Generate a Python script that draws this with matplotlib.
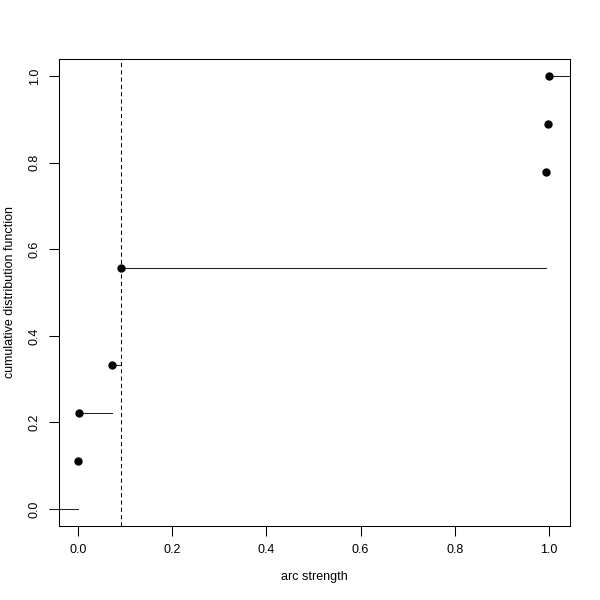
import matplotlib
matplotlib.use("Agg")
import matplotlib.pyplot as plt
import numpy as np

strengths = [0.001, 0.003, 0.072, 0.0907, 0.0907, 0.994, 0.994, 0.998, 1.0]
threshold = 0.0907
xticks = [0.0, 0.2, 0.4, 0.6, 0.8, 1.0]
yticks = [0.0, 0.2, 0.4, 0.6, 0.8, 1.0]

plt.rcParams['font.family'] = ['Liberation Sans', 'DejaVu Sans']
fig = plt.figure(figsize=(6, 6), dpi=100)
ax = fig.add_axes([0.0983, 0.1233, 0.8517, 0.7784])

xs = np.sort(np.array(strengths))
n = len(xs)
ux, counts = np.unique(xs, return_counts=True)
cdf = np.cumsum(counts) / n

xlo, xhi = -0.0403, 1.0446
ax.set_xlim(xlo, xhi)
ax.set_ylim(-0.039, 1.039)

lw = 0.75
lc = '#222222'
# left segment
ax.plot([-0.057, ux[0]], [0, 0], color=lc, lw=lw, clip_on=False)
for i in range(len(ux)):
    xr = ux[i + 1] if i + 1 < len(ux) else xhi
    ax.plot([ux[i], xr], [cdf[i], cdf[i]], color=lc, lw=lw, clip_on=False)
ax.plot(ux, cdf, 'o', color='black', markersize=5, clip_on=False)

ax.axvline(threshold, color='black', lw=0.75, linestyle=(0, (4, 3)))

ax.set_xticks(xticks)
ax.set_xticklabels([f"{v:.1f}" for v in xticks])
ax.set_yticks(yticks)
ax.set_yticklabels([f"{v:.1f}" for v in yticks], rotation=90, va='center')
ax.tick_params(length=7, width=0.75, labelsize=9, pad=6)
for s in ax.spines.values():
    s.set_linewidth(0.75)

ax.set_xlabel("arc strength", fontsize=9, labelpad=11)
ax.set_ylabel("cumulative distribution function", fontsize=9, labelpad=9)

fig.savefig("out.png", dpi=100)
